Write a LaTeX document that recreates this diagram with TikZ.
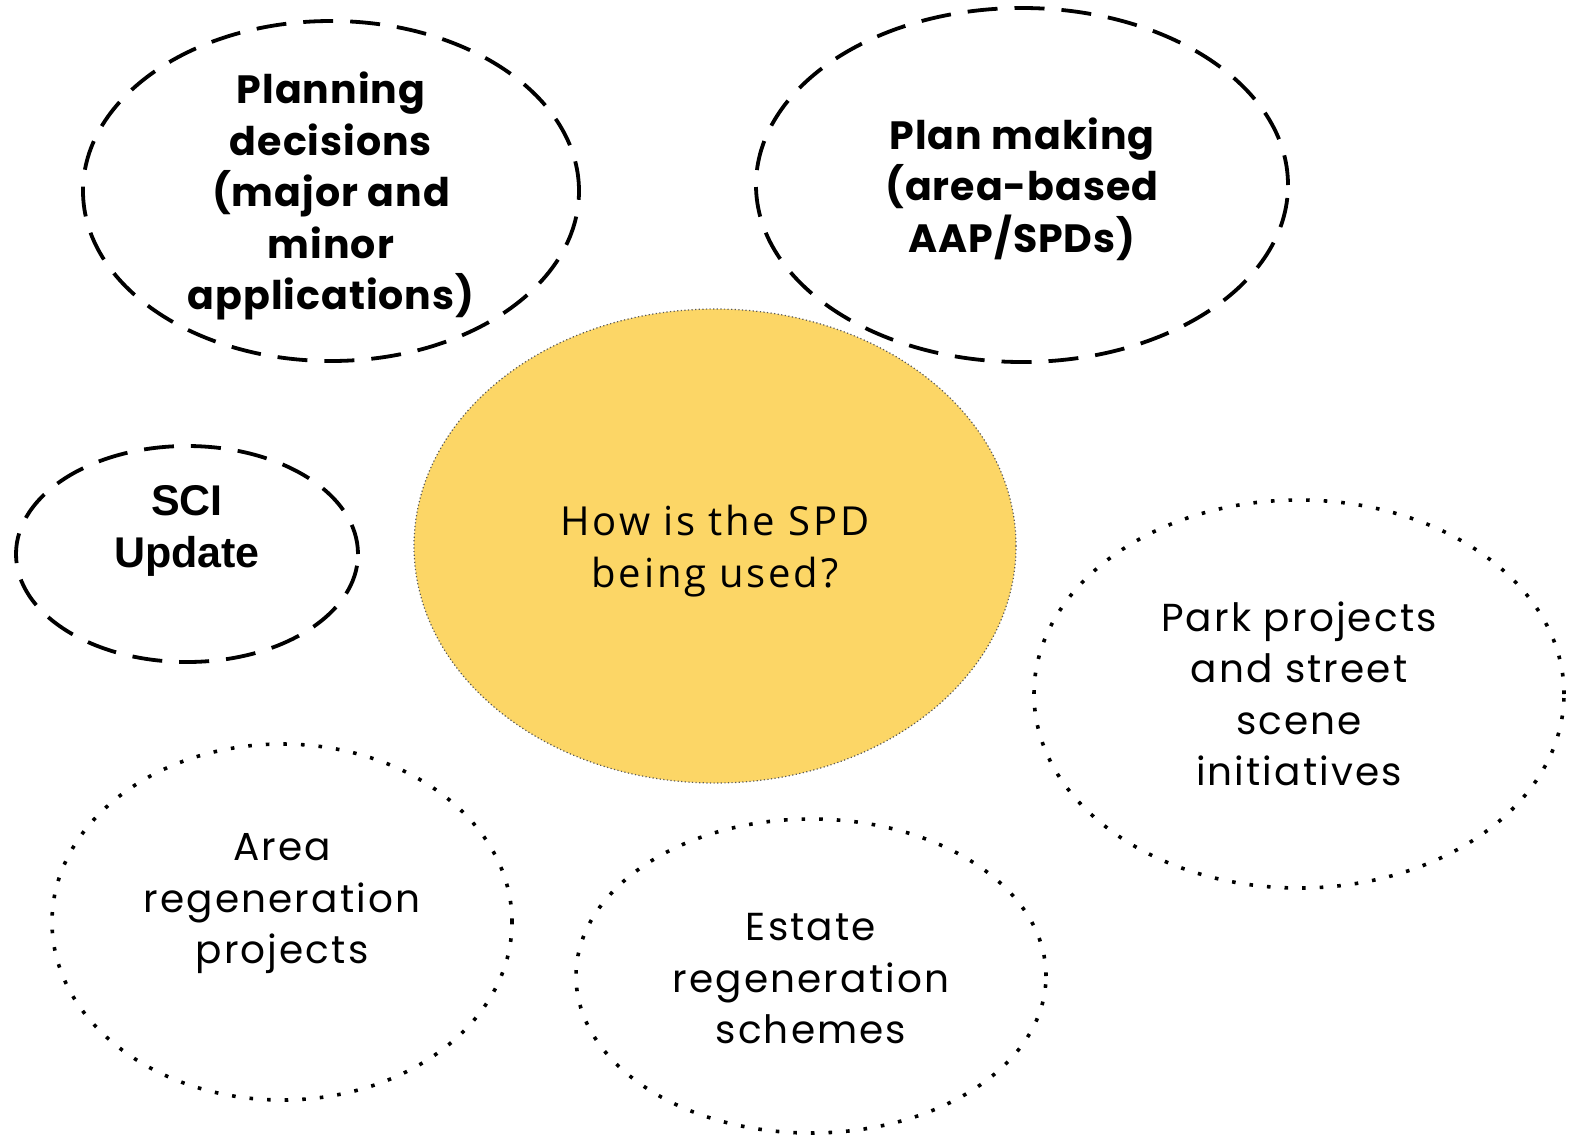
\documentclass[tikz,border=0pt]{standalone}
\usepackage{fontspec}
\usetikzlibrary{shapes.geometric}
\setmainfont{Poppins}
\newfontfamily\boldfam[LetterSpace=2.5]{Poppins}
\newfontfamily\regfam[LetterSpace=5.5]{Poppins}
\newfontfamily\armfont{Liberation Sans}
\newfontfamily\plexfont[LetterSpace=7]{Open Sans}
\definecolor{spdyellow}{RGB}{252,214,102}
\begin{document}
\begin{tikzpicture}[x=1pt,y=-1pt,
  bubble/.style={ellipse, inner sep=0pt},
  dashbub/.style={bubble, draw=black, line width=3.8pt, dash pattern=on 30pt off 17pt},
  dotbub/.style={bubble, draw=black, line width=3.6pt, dash pattern=on 3.6pt off 14pt},
  mainbub/.style={bubble, fill=spdyellow, draw=black!65, line width=1.2pt, dash pattern=on 1.2pt off 2.4pt},
  boldtxt/.style={align=center, font=\fontsize{39.5}{51.5}\boldfam\bfseries},
  regtxt/.style={align=center, font=\fontsize{39}{51.5}\regfam},
]
\useasboundingbox (0,0) rectangle (1574,1136);
\node[dashbub, minimum width=496pt, minimum height=340pt] (pd) at (331,191) {};
\node[dashbub, minimum width=532pt, minimum height=354pt] (pm) at (1022,185) {};
\node[dashbub, minimum width=342pt, minimum height=216pt] (sci) at (187,554) {};
\node[mainbub, minimum width=602pt, minimum height=474pt] (spd) at (715,546) {};
\node[dotbub, minimum width=530pt, minimum height=388pt] (park) at (1299,694) {};
\node[dotbub, minimum width=460pt, minimum height=356pt] (area) at (282,922) {};
\node[dotbub, minimum width=470pt, minimum height=314pt] (estate) at (811,976) {};

\node[boldtxt] (pdt) at (331,196) {Planning\\decisions\\(major and\\minor\\applications)};
\node[boldtxt] (pmt) at (1022,189) {Plan making\\(area-based\\AAP/SPDs)};
\node[align=center, font=\fontsize{43}{52}\armfont\bfseries] (scit) at (187,531) {SCI\\Update};
\node[align=center, font=\fontsize{40}{51.5}\plexfont] (spdt) at (715,551) {How is the SPD\\being used?};
\node[regtxt] (parkt) at (1299,694) {Park projects\\and street\\scene\\initiatives};
\node[regtxt] (areat) at (282,904) {Area\\regeneration\\projects};
\node[regtxt] (estatet) at (811,979) {Estate\\regeneration\\schemes};
\end{tikzpicture}
\end{document}
